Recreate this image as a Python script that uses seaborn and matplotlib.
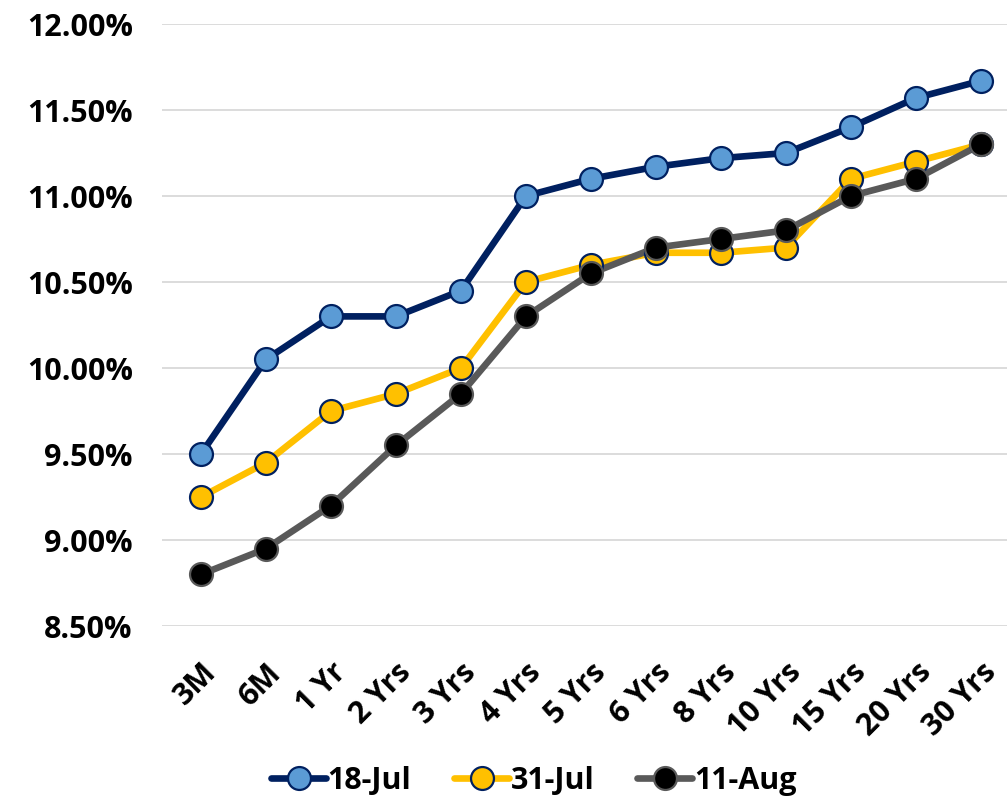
import matplotlib
matplotlib.use("Agg")
import matplotlib.pyplot as plt
import matplotlib.ticker as mticker
import pandas as pd
import seaborn as sns

# Yield curve tenors and yields (%) on three dates
tenors = ["3M", "6M", "1 Yr", "2 Yrs", "3 Yrs", "4 Yrs", "5 Yrs", "6 Yrs",
          "8 Yrs", "10 Yrs", "15 Yrs", "20 Yrs", "30 Yrs"]
jul18 = [9.50, 10.05, 10.30, 10.30, 10.45, 11.00, 11.10, 11.17, 11.22, 11.25, 11.40, 11.57, 11.67]
jul31 = [9.25, 9.45, 9.75, 9.85, 10.00, 10.50, 10.60, 10.67, 10.67, 10.70, 11.10, 11.20, 11.30]
aug11 = [8.80, 8.95, 9.20, 9.55, 9.85, 10.30, 10.55, 10.70, 10.75, 10.80, 11.00, 11.10, 11.30]
series_names = ["18-Jul", "31-Jul", "11-Aug"]
y_ticks = [8.5, 9.0, 9.5, 10.0, 10.5, 11.0, 11.5, 12.0]

line_colors = ["#002060", "#FFC000", "#595959"]
face_colors = ["#5B9BD5", "#FFC000", "#000000"]
edge_colors = ["#002060", "#002060", "#595959"]

df = pd.DataFrame({
    "tenor": tenors * 3,
    "pos": list(range(len(tenors))) * 3,
    "yield": jul18 + jul31 + aug11,
    "series": [s for s in series_names for _ in tenors],
})

sns.set_theme(style="white")
plt.rcParams["font.family"] = ["Open Sans", "DejaVu Sans"]
plt.rcParams["font.weight"] = "bold"
plt.rcParams["text.color"] = "black"
plt.rcParams["xtick.color"] = "black"
plt.rcParams["ytick.color"] = "black"

fig = plt.figure(figsize=(10.07, 8.04), dpi=100)
ax = fig.add_axes([162 / 1007, 1 - 627 / 804, (1007 - 162) / 1007, (627 - 25) / 804])

LW = 4.8
MS = 16.5
sns.lineplot(data=df, x="pos", y="yield", hue="series", palette=line_colors,
             linewidth=LW, ax=ax, legend=False, zorder=3)

# Circle markers with coloured edges on top of each line
for i, name in enumerate(series_names):
    sub = df[df["series"] == name]
    ax.plot(sub["pos"], sub["yield"], linestyle="none", marker="o",
            markersize=MS, markerfacecolor=face_colors[i],
            markeredgecolor=edge_colors[i], markeredgewidth=1.6, zorder=4 + i)

ax.set_xlim(-0.6, 12.4)
ax.set_ylim(8.5, 12.0)
ax.set_yticks(y_ticks)
ax.yaxis.set_major_formatter(mticker.FuncFormatter(lambda v, _: f"{v:.2f}%"))
ax.set_xticks(range(len(tenors)))
ax.set_xticklabels(tenors, rotation=45, ha="right", rotation_mode="anchor")

ax.grid(axis="y", color="#D9D9D9", linewidth=1.3)
ax.set_axisbelow(True)
for sp in ax.spines.values():
    sp.set_visible(False)

ax.tick_params(axis="y", labelsize=22, pad=21, length=0, labelcolor="black")
ax.tick_params(axis="x", labelsize=22, pad=22, length=0, labelcolor="black")
for lbl in ax.get_xticklabels() + ax.get_yticklabels():
    lbl.set_fontweight("bold")
ax.set_xlabel("")
ax.set_ylabel("")

# Legend: line with marker for each date
handles = [plt.Line2D([], [], color=line_colors[i], linewidth=LW, marker="o",
                      markersize=MS, markerfacecolor=face_colors[i],
                      markeredgecolor=edge_colors[i], markeredgewidth=1.6,
                      solid_capstyle="round")
           for i in range(3)]
fig.legend(handles, series_names, loc="center", bbox_to_anchor=(0.53, 0.028),
           ncol=3, frameon=False, handlelength=1.8, handletextpad=0.05,
           columnspacing=1.4, prop={"size": 22, "weight": "bold"})

fig.savefig("out.png", dpi=100)
